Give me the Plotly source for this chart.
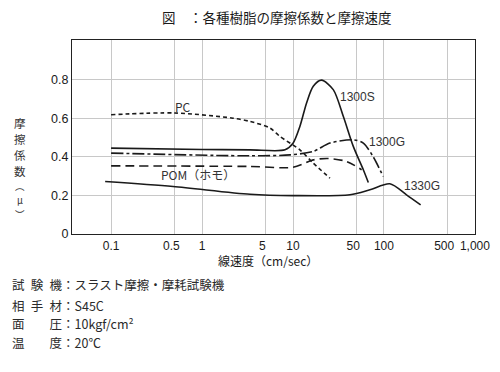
import math
import plotly.graph_objects as go

FONT = "Noto Sans CJK JP"
NUMFONT = "Liberation Sans"
INK = "#1a1a1a"
NB = "\u00a0"

# ---- data ----
pc_x = [0.1, 0.5, 2.19, 3.37, 5.58, 7.2, 11.9, 16.7, 25.5]
pc_y = [0.618, 0.627, 0.60, 0.583, 0.549, 0.505, 0.436, 0.367, 0.289]

s1300_x = [0.1, 1, 3.37, 8.17, 10, 11.9, 14.1, 16.7, 20.6, 27.7, 35.7, 46, 59.3, 67.3]
s1300_y = [0.445, 0.438, 0.436, 0.436, 0.47, 0.557, 0.679, 0.765, 0.797, 0.748, 0.61, 0.454, 0.333, 0.267]

g1300_x = [0.1, 3.37, 9.3, 16.7, 25.5, 46, 59.3, 76.2, 98]
g1300_y = [0.419, 0.405, 0.41, 0.428, 0.471, 0.488, 0.471, 0.40, 0.298]

pom_x = [0.1, 3.37, 10, 16.7, 24.4, 38.6, 56.8]
pom_y = [0.353, 0.35, 0.346, 0.384, 0.391, 0.376, 0.333]

g1330_x = [0.086, 0.48, 3.37, 10, 42.3, 70.1, 116, 177, 253]
g1330_y = [0.272, 0.246, 0.206, 0.199, 0.203, 0.229, 0.26, 0.203, 0.151]

x_tickvals = [0.1, 0.5, 1, 5, 10, 50, 100, 500, 1000]
x_ticktext = ["0.1", "0.5" + NB * 2, "1", "5" + NB * 2, "10", "50" + NB * 2, "100", "500" + NB * 2, "1,000"]
y_tickvals = [0, 0.2, 0.4, 0.6, 0.8]
y_ticktext = ["0", "0.2", "0.4", "0.6", "0.8"]

# curve labels: (text, x value at label centre, y value)
labels = [
    ("PC", 0.62, 0.66),
    ("POM（ホモ）", 0.9, 0.306),
    ("1300S", 51.8, 0.708),
    ("1300G", 107, 0.475),
    ("1330G", 263, 0.249),
]

ylabel_chars = ["摩", "擦", "係", "数", "︵", "μ", "︶"]

SP = "\u2002"
notes = [
    f"試{SP}験{SP}機：スラスト摩擦・摩耗試験機",
    f"相{SP}手{SP}材：S45C",
    "面　　圧：10kgf/cm²",
    "温　　度：20℃",
]

# page body adds an 8px margin; figure is sized so the whole page is 500x372
W, H = 492, 364
L, T, R, B = 64, 32, 25, 138
PW, PH = W - L - R, H - T - B  # 403 x 194
XR = [-1.43, 3.001]
YR = [0, 1.005]

def px(xwin):
    return (xwin - 8 - L) / PW

def py(ywin):
    return (T + PH - (ywin - 8)) / PH

fig = go.Figure()

def add(x, y, dash, width=1.6):
    fig.add_trace(go.Scatter(x=x, y=y, mode="lines",
                             line=dict(color=INK, width=width, dash=dash, shape="spline", smoothing=0.8),
                             showlegend=False, hoverinfo="skip"))

add(pc_x, pc_y, "4px,3px")
add(s1300_x, s1300_y, "solid")
add(g1300_x, g1300_y, "12px,3px,3px,3px")
add(pom_x, pom_y, "9px,5px")
add(g1330_x, g1330_y, "solid")

for t, x, y in labels:
    fig.add_annotation(x=math.log10(x), y=y, text=t, showarrow=False,
                       xanchor="center", yanchor="middle",
                       font=dict(family=NUMFONT if t[0].isdigit() else FONT, size=12, color="#333"))

fig.add_annotation(xref="paper", yref="paper", x=px(277), y=py(17),
                   text="図　：各種樹脂の摩擦係数と摩擦速度", showarrow=False,
                   xanchor="center", yanchor="middle",
                   font=dict(family=FONT, size=13.5, color=INK))

fig.add_annotation(xref="paper", yref="paper", x=px(268), y=py(260),
                   text="線速度（cm/sec）", showarrow=False,
                   xanchor="center", yanchor="middle",
                   font=dict(family=FONT, size=12, color=INK))

ylab_y = [123, 139, 155, 171, 186, 200, 214]
ylab_size = [11.5, 11.5, 11.5, 11.5, 9.5, 9.5, 9.5]
for ch, yy, fs in zip(ylabel_chars, ylab_y, ylab_size):
    fig.add_annotation(xref="paper", yref="paper", x=px(20), y=py(yy),
                       text=ch, showarrow=False, xanchor="center", yanchor="middle",
                       font=dict(family=FONT, size=fs, color="#333"))

note_y = [284, 305, 323, 342]
for n, yy in zip(notes, note_y):
    fig.add_annotation(xref="paper", yref="paper", x=px(10), y=py(yy),
                       text=n, showarrow=False, xanchor="left", yanchor="middle",
                       font=dict(family=FONT, size=12.5, color="#2a2a2a"))

fig.update_xaxes(type="log", range=XR, tickvals=x_tickvals, ticktext=x_ticktext,
                 tickangle=0,
                 showgrid=True, gridcolor="#c8c8c8", gridwidth=1,
                 showline=True, linecolor="#222", linewidth=1.2, mirror=True,
                 ticks="", zeroline=False,
                 tickfont=dict(family=NUMFONT, size=12, color=INK))
fig.update_yaxes(range=YR, tickvals=y_tickvals, ticktext=y_ticktext,
                 showgrid=True, gridcolor="#c8c8c8", gridwidth=1,
                 showline=True, linecolor="#222", linewidth=1.2, mirror=True,
                 ticks="", zeroline=False,
                 tickfont=dict(family=NUMFONT, size=12.5, color=INK))

fig.update_layout(width=W, height=H, margin=dict(l=L, r=R, t=T, b=B, autoexpand=False),
                  paper_bgcolor="white", plot_bgcolor="white",
                  font=dict(family=FONT, color=INK))

fig.write_html("out.html")
